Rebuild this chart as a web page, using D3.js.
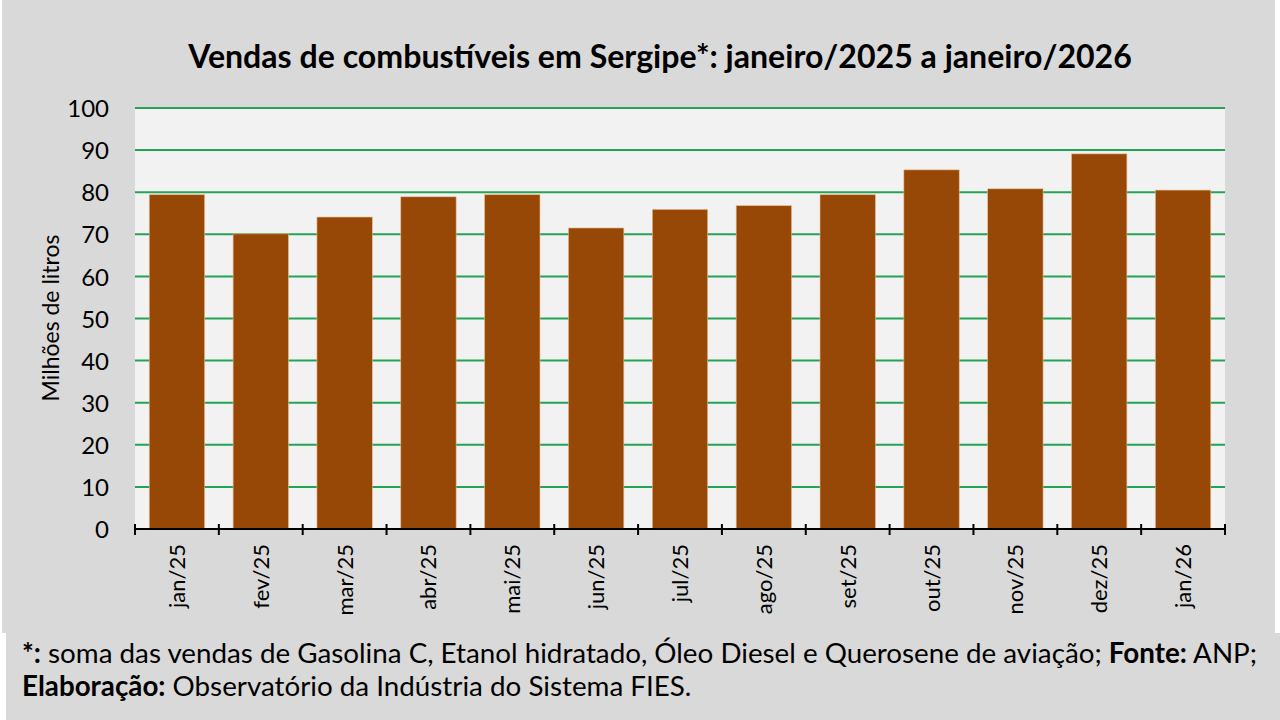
<!DOCTYPE html>
<html>
<head>
<meta charset="utf-8">
<script src="https://cdn.jsdelivr.net/npm/d3@7"></script>
<style>
  body { margin: 0; background: #ffffff; }
  svg { display: block; }
</style>
</head>
<body>
<div id="chart"></div>
<script>
var meses = ["jan/25", "fev/25", "mar/25", "abr/25", "mai/25", "jun/25", "jul/25",
             "ago/25", "set/25", "out/25", "nov/25", "dez/25", "jan/26"];
var vendas = [79.4, 70.1, 74.1, 78.9, 79.4, 71.5, 75.9, 76.8, 79.4, 85.3, 80.8, 89.1, 80.5];
var yTicks = [0, 10, 20, 30, 40, 50, 60, 70, 80, 90, 100];

var width = 1280,
    height = 720,
    plotLeft = 135,
    plotRight = 1225,
    plotTop = 108,
    plotBottom = 529,
    font = "Lato, 'Open Sans', sans-serif";

var svg = d3.select("#chart").append("svg")
    .attr("width", width).attr("height", height);

// ajusta o tamanho da fonte para a largura desejada
var fitText = function(sel, targetWidth) {
    var w = sel.node().getComputedTextLength();
    var fs = parseFloat(sel.attr("font-size"));
    sel.attr("font-size", fs * targetWidth / w);
    return fs * targetWidth / w;
};

// fundo
svg.append("rect").attr("x", 0).attr("y", 0).attr("width", width).attr("height", height)
    .attr("fill", "#ffffff");
svg.append("rect").attr("x", 2).attr("y", 0).attr("width", 1273).attr("height", 633)
    .attr("fill", "#d9d9d9");
svg.append("rect").attr("x", 6).attr("y", 633).attr("width", 1274).attr("height", 87)
    .attr("fill", "#d9d9d9");

var x = d3.scaleBand().domain(meses).range([plotLeft, plotRight]).paddingInner(0.34).paddingOuter(0.17);
var y = d3.scaleLinear().domain([0, 100]).range([plotBottom, plotTop]);

// area do grafico
svg.append("rect").attr("x", plotLeft).attr("y", plotTop)
    .attr("width", plotRight - plotLeft).attr("height", plotBottom - plotTop)
    .attr("fill", "#f2f2f2");

// linhas de grade
svg.append("g").selectAll("line").data(yTicks.filter(function(d) { return d > 0; }))
    .enter().append("line")
    .attr("x1", plotLeft).attr("x2", plotRight)
    .attr("y1", function(d) { return y(d); })
    .attr("y2", function(d) { return y(d); })
    .attr("stroke", "#23a455").attr("stroke-width", 2);

// barras
svg.append("g").selectAll("rect").data(vendas).enter().append("rect")
    .attr("x", function(d, i) { return x(meses[i]); })
    .attr("y", function(d) { return y(d); })
    .attr("width", x.bandwidth())
    .attr("height", function(d) { return y(0) - y(d); })
    .attr("fill", "#974706")
    .attr("stroke", "#e8b887").attr("stroke-width", 0.6);

// eixo y
var yAxis = svg.append("g").attr("transform", "translate(" + (plotLeft - 26) + ",0)")
    .call(d3.axisLeft(y).tickValues(yTicks).tickSize(0).tickPadding(0));
yAxis.select(".domain").remove();
yAxis.selectAll("text").attr("font-family", font).attr("font-size", 24).attr("fill", "#000")
    .attr("dy", "0.36em");

// eixo x
var step = x.step();
var bounds = meses.map(function(m) { return x(m) - (step - x.bandwidth()) / 2; });
bounds.push(plotRight);
svg.append("line").attr("x1", plotLeft).attr("x2", plotRight).attr("y1", plotBottom).attr("y2", plotBottom)
    .attr("stroke", "#000").attr("stroke-width", 2);
svg.append("g").selectAll("line").data(bounds).enter().append("line")
    .attr("x1", function(d) { return d; }).attr("x2", function(d) { return d; })
    .attr("y1", plotBottom - 5).attr("y2", plotBottom + 6)
    .attr("stroke", "#000").attr("stroke-width", 2);

svg.append("g").selectAll("text").data(meses).enter().append("text")
    .attr("transform", function(d) {
        return "translate(" + (x(d) + x.bandwidth() / 2 + 8) + "," + (plotBottom + 15) + ") rotate(-90)";
    })
    .attr("text-anchor", "end")
    .attr("font-family", font).attr("font-size", 22).attr("fill", "#000")
    .text(function(d) { return d; });

// titulo do eixo y
var yTitle = svg.append("text")
    .attr("transform", "translate(59,318) rotate(-90)")
    .attr("text-anchor", "middle")
    .attr("font-family", font).attr("font-size", 20).attr("fill", "#000")
    .text("Milhões de litros");
fitText(yTitle, 167);

// titulo
var title = svg.append("text").attr("x", 660).attr("y", 68).attr("text-anchor", "middle")
    .attr("font-family", font).attr("font-size", 24).attr("font-weight", "bold").attr("fill", "#000")
    .text("Vendas de combustíveis em Sergipe*: janeiro/2025 a janeiro/2026");
fitText(title, 944);

// nota
var nota1 = svg.append("text").attr("x", 22).attr("y", 663)
    .attr("font-family", font).attr("font-size", 20).attr("fill", "#000");
nota1.append("tspan").attr("font-weight", "bold").text("*:");
nota1.append("tspan").text(" soma das vendas de Gasolina C, Etanol hidratado, Óleo Diesel e Querosene de aviação; ");
nota1.append("tspan").attr("font-weight", "bold").text("Fonte:");
nota1.append("tspan").text(" ANP;");
var fs = fitText(nota1, 1236);

var nota2 = svg.append("text").attr("x", 22).attr("y", 696)
    .attr("font-family", font).attr("font-size", fs).attr("fill", "#000");
nota2.append("tspan").attr("font-weight", "bold").text("Elaboração:");
nota2.append("tspan").text(" Observatório da Indústria do Sistema FIES.");
</script>
</body>
</html>
